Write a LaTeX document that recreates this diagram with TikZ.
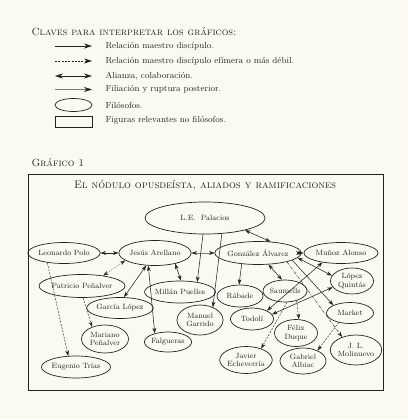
\documentclass[tikz,border=0pt]{standalone}
\usetikzlibrary{shapes.geometric,arrows.meta}
\definecolor{paper}{RGB}{251,250,242}
\definecolor{ink}{RGB}{35,35,35}
\definecolor{faint}{RGB}{125,125,125}
\begin{document}
\begin{tikzpicture}[x=1pt,y=-1pt,
  every node/.style={text=ink},
  phil/.style={ellipse,draw=ink,line width=0.7pt,inner sep=0pt,align=center,
    font=\fontsize{7.6}{8.6}\selectfont},
  sz/.style 2 args={minimum width=#1pt,minimum height=#2pt},
  mm/.style={draw=ink,line width=0.55pt,-{Stealth[length=5.5pt,width=3.8pt]}},
  ef/.style={mm,line width=0.45pt,dash pattern=on 2pt off 1.3pt},
  al/.style={draw=ink,line width=0.55pt,{Stealth[length=5.5pt,width=3.8pt]}-{Stealth[length=5.5pt,width=3.8pt]}},
  alf/.style={draw=faint,line width=0.45pt,{Stealth[length=5.5pt,width=3.8pt,color=ink]}-{Stealth[length=5.5pt,width=3.8pt,color=ink]}},
  alfd/.style={alf,dash pattern=on 1.5pt off 1pt},
  lgm/.style={draw=ink,line width=0.55pt,-{Stealth[length=8pt,width=5pt]}},
  lgtext/.style={anchor=west,font=\fontsize{8.8}{10}\selectfont},
]
\fill[paper] (0,0) rectangle (408,419);
\useasboundingbox (0,0) rectangle (408,419);

% ---------- legend ----------
\node[anchor=west,font=\fontsize{10.4}{12}\selectfont\scshape] (ltitle) at (28,32) {Claves para interpretar los gráficos:};
\coordinate (l1a) at (55,46); \coordinate (l1b) at (92,46);
\coordinate (l2a) at (55,61); \coordinate (l2b) at (92,61);
\coordinate (l3a) at (55,76); \coordinate (l3b) at (92,76);
\coordinate (l4a) at (55,89.5); \coordinate (l4b) at (92,89.5);
\draw[lgm] (l1a) -- (l1b);
\draw[lgm,line width=0.45pt,dash pattern=on 2pt off 1.3pt] (l2a) -- (l2b);
\draw[lgm,{Stealth[length=8pt,width=5pt]}-{Stealth[length=8pt,width=5pt]}] (l3a) -- (l3b);
\draw[draw=faint,line width=0.4pt,-{Stealth[length=8pt,width=5pt,color=ink]}] (l4a) -- (l4b);
\node[ellipse,draw=ink,line width=0.7pt,inner sep=0pt,sz={37}{13}] (lell) at (73.5,105) {};
\node[draw=ink,line width=0.7pt,inner sep=0pt,sz={37}{11}] (lrect) at (73.5,122) {};
\node[lgtext] (t1) at (102,46) {Relación maestro discípulo.};
\node[lgtext] (t2) at (102,61) {Relación maestro discípulo efímera o más débil.};
\node[lgtext] (t3) at (102,76) {Alianza, colaboración.};
\node[lgtext] (t4) at (102,89.5) {Filiación y ruptura posterior.};
\node[lgtext] (t5) at (102,105) {Filósofos.};
\node[lgtext] (t6) at (102,120.5) {Figuras relevantes no filósofos.};

% ---------- chart ----------
\node[anchor=west,font=\fontsize{10.4}{12}\selectfont\scshape] (gtitle) at (28,163) {Gráfico 1};
\draw[draw=ink,line width=1pt] (28,175) rectangle (383,390);
\node[font=\fontsize{10.8}{12}\selectfont\scshape] (ftitle) at (205,185) {El nódulo opusdeísta, aliados y ramificaciones};

\node[phil,sz={120}{32}] (pal) at (205,218) {L.E.\ \ Palacios};
\node[phil,sz={68}{21}] (polo) at (64,253) {Leonardo Polo};
\node[phil,sz={68}{25}] (are) at (155,253) {Jesús Arellano};
\node[phil,sz={72}{23}] (gon) at (258,253) {González Álvarez};
\node[phil,sz={74}{21}] (mun) at (341,253) {Muñoz Alonso};
\node[phil,sz={66}{23}] (pat) at (82,286) {Patricio Peñalver};
\node[phil,sz={53}{21}] (gar) at (120,308) {García López};
\node[phil,sz={62}{22}] (mil) at (180,292) {Millán Puelles};
\node[phil,sz={46}{30}] (man) at (200,320) {Manuel\\Garrido};
\node[phil,sz={47}{28}] (mar) at (105,339) {Mariano\\Peñalver};
\node[phil,sz={46}{20}] (fal) at (168,342) {Falgueras};
\node[phil,sz={69}{22}] (tri) at (76,367) {Eugenio Trías};
\node[phil,sz={46}{22}] (rab) at (240,296) {Rábade};
\node[phil,sz={44}{22}] (sau) at (285,291) {Saumells};
\node[phil,sz={43}{26}] (lop) at (352,281) {López\\Quintás};
\node[phil,sz={43}{22}] (tod) at (252,319) {Todolí};
\node[phil,sz={47}{21}] (mkt) at (350,313) {Market};
\node[phil,sz={43}{27}] (fel) at (296,333) {Félix\\Duque};
\node[phil,sz={48}{30}] (mol) at (356,350) {J. L.\\Molinuevo};
\node[phil,sz={46}{27}] (jav) at (246,360) {Javier\\Echeverría};
\node[phil,sz={46}{26}] (gab) at (303,361) {Gabriel\\Albiac};

% connectors
\draw[al] (polo.east) -- (are.west);
\draw[alf] (are.east) -- (gon.west);
\draw[al] (gon.east) -- (mun.west);
\draw[al] (pal.-17) -- (gon.42);
\draw[mm] (pal.-97) -- (mil.30);
\draw[mm] (pal.-43) -- (man.45);
\draw[al] (are.-28) -- (mil.85);
\draw[al] (are.-125) -- (gar.70);
\draw[al] (are.-118) -- (fal.147);
\draw[alfd] (are.-166) -- (pat.26);
\draw[ef] (polo.-150) -- (tri.125);
\draw[ef] (pat.-85) -- (mar.137);
\draw[mm] (gon.-146) -- (rab.95);
\draw[al] (gon.-48) -- (sau.105);
\draw[al] (gon.-7) -- (lop.165);
\draw[mm] (gon.-12) -- (mkt.155);
\draw[ef,dash pattern=on 3pt off 1.2pt on 0.6pt off 1.2pt] (gon.-17) -- (mol.137);
\draw[al] (mun.-153) -- (tod.29);
\draw[al] (lop.-162) -- (tod.13);
\draw[ef] (sau.-40) -- (fel.78);
\draw[ef] (sau.-80) -- (jav.37);
\draw[ef] (mkt.-140) -- (gab.36);
\end{tikzpicture}
\end{document}
